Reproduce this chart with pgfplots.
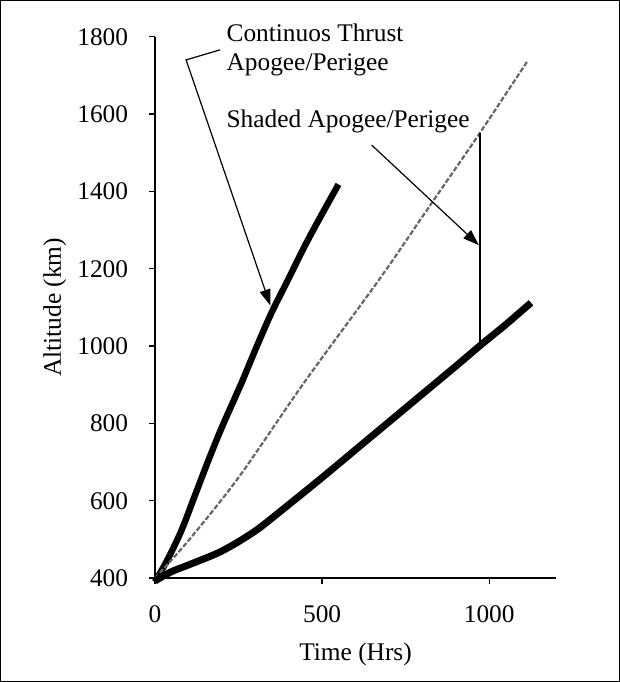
\documentclass[border=0pt]{standalone}
\usepackage{pgfplots}
\pgfplotsset{compat=1.18}
\usepackage{fontspec}
\setmainfont{Liberation Serif}
\usetikzlibrary{arrows.meta}
\begin{document}
\begin{tikzpicture}
\fontsize{12.7}{14.5}\selectfont
\begin{axis}[
  at={(0,0)}, anchor=origin,
  scale only axis, width=200bp, height=270bp,
  xmin=0, xmax=1200, ymin=400, ymax=1800,
  axis x line*=bottom, axis y line*=left,
  axis line style={line width=0.7bp},
  tick style={line width=0.7bp, black},
  tick align=outside, major tick length=3bp,
  xtick={0,500,1000}, ytick={400,600,...,1800},
  /pgf/number format/assume math mode=true,
  /pgf/number format/1000 sep={},
  tick label style={font=\fontsize{12.7}{14.5}\selectfont},
  yticklabel style={xshift=-6bp},
  xticklabel style={yshift=-6.5bp},
  xlabel={Time (Hrs)}, ylabel={Altitude (km)},
  label style={font=\fontsize{12.7}{14.5}\selectfont},
  x label style={at={(axis description cs:0.5,-0.1407)}, anchor=center},
  y label style={at={(axis description cs:-0.25,0.5)}, anchor=center},
  clip=false,
]
% Continuous thrust apogee/perigee
\addplot[black, line width=3.2bp, line join=round, smooth] coordinates {
 (0,390) (40,452) (80,525) (120,615) (160,705) (200,790) (258,903)
 (300,990) (348,1085) (400,1175) (450,1262) (500,1342) (549,1418)};
% Shaded apogee/perigee (upper, dashed)
\addplot[black!60, line width=1.1bp, dash pattern=on 2.5bp off 1bp, smooth] coordinates {
 (0,400) (99,496) (249,659) (444,903) (669,1170) (828,1370) (972,1551) (1113,1735)};
% Shaded apogee/perigee (lower)
\addplot[black, line width=3.5bp, line join=round, smooth] coordinates {
 (0,393) (50,417) (100,434) (200,470) (300,522) (400,590) (500,660)
 (600,732) (700,804) (800,876) (900,948) (975,1003) (1050,1056) (1125,1112)};
% vertical connector
\addplot[black, line width=0.8bp] coordinates {(972,1551) (972,1005)};
% annotations
\node[anchor=north west, align=left, inner sep=0pt, font=\fontsize{12.7}{14.5}\selectfont]
  at (axis cs:213,1835) {Continuos Thrust\\Apogee/Perigee};
\draw[line width=0.6bp, -{Triangle[length=8bp,width=5.5bp]}]
  (axis cs:195,1766) -- (axis cs:93,1740) -- (axis cs:345,1105);
\node[anchor=north west, inner sep=0pt, font=\fontsize{12.7}{14.5}\selectfont]
  at (axis cs:213,1612) {Shaded Apogee/Perigee};
\draw[line width=0.6bp, -{Triangle[length=8bp,width=5.5bp]}]
  (axis cs:648,1520) -- (axis cs:969,1261);
\end{axis}
\draw[line width=0.6bp] (-77bp,-51.5bp) rectangle (231.5bp,288bp);
\end{tikzpicture}
\end{document}
